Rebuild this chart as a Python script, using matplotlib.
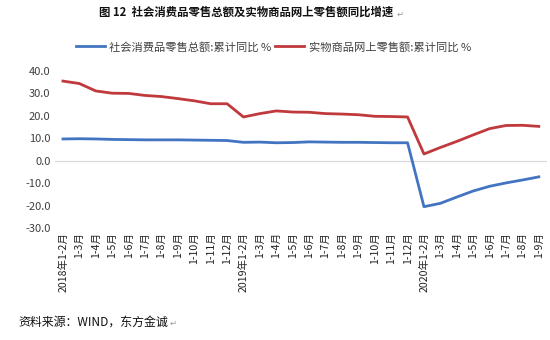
import matplotlib
matplotlib.use("Agg")
import matplotlib.pyplot as plt

plt.rcParams['font.family'] = ['Noto Sans CJK SC', 'DejaVu Sans']
plt.rcParams['axes.unicode_minus'] = False

categories = (["2018年1-2月"] + [f"1-{m}月" for m in range(3, 13)]
              + ["2019年1-2月"] + [f"1-{m}月" for m in range(3, 13)]
              + ["2020年1-2月"] + [f"1-{m}月" for m in range(3, 10)])

retail_total = [9.7, 9.8, 9.7, 9.5, 9.4, 9.3, 9.3, 9.3, 9.2, 9.1, 9.0,
                8.2, 8.3, 8.0, 8.1, 8.4, 8.3, 8.2, 8.2, 8.1, 8.0, 8.0,
                -20.5, -19.0, -16.2, -13.5, -11.4, -9.9, -8.6, -7.2]
online_goods = [35.5, 34.4, 31.1, 30.1, 30.0, 29.1, 28.6, 27.7, 26.7, 25.4, 25.4,
                19.5, 21.0, 22.2, 21.7, 21.6, 21.0, 20.8, 20.5, 19.8, 19.7, 19.5,
                3.0, 5.9, 8.6, 11.5, 14.3, 15.7, 15.8, 15.3]

series_names = ["社会消费品零售总额:累计同比 %", "实物商品网上零售额:累计同比 %"]
title = "图 12  社会消费品零售总额及实物商品网上零售额同比增速"
source = "资料来源：WIND，东方金诚"
yticks = [40, 30, 20, 10, 0, -10, -20, -30]

fig = plt.figure(figsize=(5.5, 3.4), dpi=100)
ax = fig.add_axes([0.0996, 0.3294, 0.895, 0.4618])

x = list(range(len(categories)))
l1, = ax.plot(x, retail_total, color="#4374C1", lw=2.0, solid_joinstyle="round")
l2, = ax.plot(x, online_goods, color="#C0393C", lw=2.0, solid_joinstyle="round")
ax.axhline(0, color="#D9D9D9", lw=0.9, zorder=0)

ax.set_xlim(-0.5, len(categories) - 0.5)
ax.set_ylim(-30, 40)
ax.set_yticks(yticks)
ax.set_yticklabels([f"{v:.1f}" for v in yticks], fontsize=8, color="#404040")
ax.set_xticks(x)
ax.set_xticklabels(categories, rotation=90, fontsize=7.6, color="#222222", va="top", ha="center")
ax.tick_params(axis="both", length=0, pad=3)
for s in ax.spines.values():
    s.set_visible(False)

fig.legend([l1, l2], series_names, loc="center", bbox_to_anchor=(0.497, 0.862), ncol=2,
           frameon=False, fontsize=8.1, handlelength=2.6, handletextpad=0.4,
           columnspacing=0.3, labelcolor="#404040")

fig.text(0.448, 0.963, title, fontsize=8.2, fontweight="bold", ha="center", va="center", color="#111111")
fig.text(0.728, 0.958, "↵", fontsize=6, ha="center", va="center", color="#999999", family="DejaVu Sans")
fig.text(0.033, 0.052, source, fontsize=8.6, ha="left", va="center", color="#111111")
fig.text(0.315, 0.050, "↵", fontsize=6, ha="center", va="center", color="#999999", family="DejaVu Sans")

fig.savefig("out.png", dpi=100, facecolor="white")
